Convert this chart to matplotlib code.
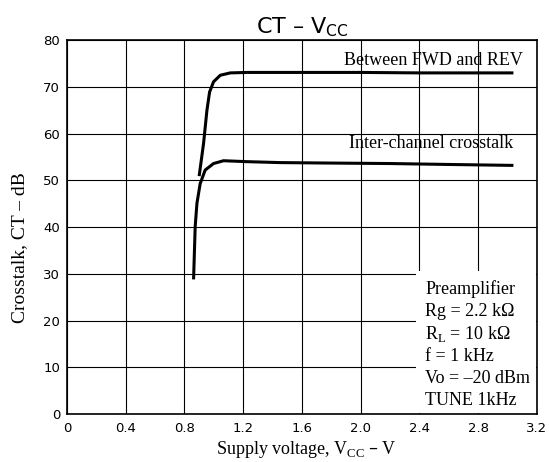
import matplotlib
matplotlib.use("Agg")
import matplotlib.pyplot as plt
from matplotlib.patches import Rectangle

# Data
fwd_rev_v = [0.90, 0.93, 0.953, 0.971, 0.998, 1.044, 1.112, 1.226, 1.6, 2.0, 2.4, 2.8, 3.04]
fwd_rev_ct = [50.9, 57.9, 65.0, 68.9, 71.1, 72.5, 73.0, 73.1, 73.1, 73.1, 73.0, 73.0, 73.0]

inter_v = [0.862, 0.873, 0.885, 0.907, 0.941, 0.998, 1.066, 1.226, 1.453, 1.8, 2.2, 2.6, 3.04]
inter_ct = [28.8, 40.1, 45.1, 49.3, 52.2, 53.6, 54.2, 54.0, 53.8, 53.7, 53.6, 53.4, 53.2]

x_ticks = [0, 0.4, 0.8, 1.2, 1.6, 2.0, 2.4, 2.8, 3.2]
x_tick_labels = ["0", "0.4", "0.8", "1.2", "1.6", "2.0", "2.4", "2.8", "3.2"]
y_ticks = [0, 10, 20, 30, 40, 50, 60, 70, 80]

conditions = ["Preamplifier", "Rg = 2.2 k\u03a9", "R$_\\mathregular{L}$ = 10 k\u03a9",
              "f = 1 kHz", "Vo = \u201320 dBm", "TUNE 1kHz"]

fig = plt.figure(figsize=(5.49, 4.62), dpi=100)
ax = fig.add_axes([0.122, 0.104, 0.856, 0.809])

ax.set_xlim(0, 3.2)
ax.set_ylim(0, 80)
ax.set_xticks(x_ticks)
ax.set_xticklabels(x_tick_labels)
ax.set_yticks(y_ticks)
ax.grid(True, color="black", linewidth=0.8)
ax.set_axisbelow(True)
ax.tick_params(length=0, labelsize=9.5)
ax.tick_params(axis="x", pad=6)
ax.tick_params(axis="y", pad=5)
for s in ax.spines.values():
    s.set_linewidth(1.2)

ax.add_patch(Rectangle((2.375, 0.3), 0.82, 30.3, facecolor="white",
                       edgecolor="none", zorder=1.5))

ax.plot(fwd_rev_v, fwd_rev_ct, color="black", linewidth=2.2, zorder=3,
        solid_capstyle="butt")
ax.plot(inter_v, inter_ct, color="black", linewidth=2.2, zorder=3,
        solid_capstyle="butt")

serif = "Liberation Serif"
ax.text(3.105, 75.7, "Between FWD and REV", ha="right", va="center",
        fontsize=13, family=serif, zorder=4)
ax.text(3.04, 57.8, "Inter-channel crosstalk", ha="right", va="center",
        fontsize=13, family=serif, zorder=4)

y0 = 26.8
for i, line in enumerate(conditions):
    ax.text(2.44, y0 - i * 4.8, line, ha="left", va="center",
            fontsize=13, family=serif, zorder=4)

ax.set_xlabel("Supply voltage, V$_\\mathregular{CC}$ \u2013 V", fontsize=13,
              family=serif, labelpad=0)
ax.xaxis.set_label_coords(0.51, -0.066)
ax.set_ylabel("Crosstalk, CT \u2013 dB", fontsize=14, family=serif)
ax.yaxis.set_label_coords(-0.083, 0.446)
ax.set_title("CT \u2013 V$_\\mathregular{CC}$", fontsize=16, pad=5)

fig.savefig("out.png", dpi=100)
